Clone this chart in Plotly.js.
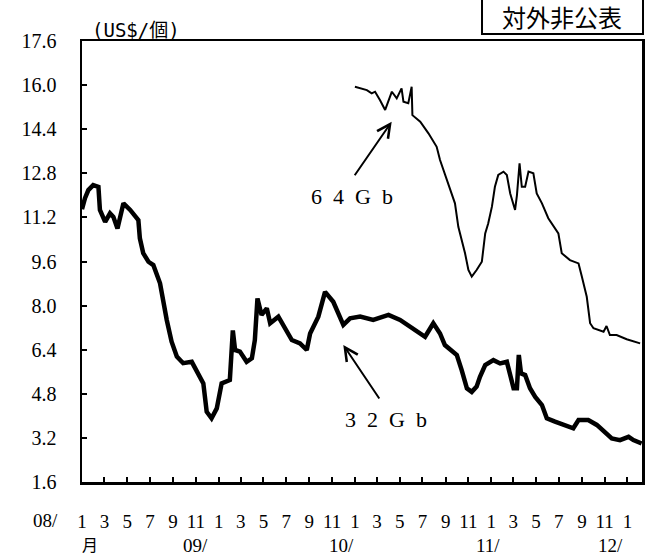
<!DOCTYPE html>
<html>
<head>
<meta charset="utf-8">
<script src="https://cdn.plot.ly/plotly-3.0.1.min.js"></script>
<style>html,body{margin:0;padding:0;background:#fff;}#chart{width:647px;height:555px;}</style>
</head>
<body>
<div id="chart"></div>
<script>
// 32Gb series (US$/unit)
const dates32 = ["2008-01-01","2008-01-09","2008-01-18","2008-01-31","2008-02-14","2008-02-18","2008-03-03","2008-03-16","2008-03-25","2008-04-05","2008-04-21","2008-05-09","2008-05-31","2008-06-04","2008-06-13","2008-06-27","2008-07-10","2008-07-28","2008-08-15","2008-08-28","2008-09-11","2008-09-28","2008-10-21","2008-11-03","2008-11-21","2008-11-30","2008-12-13","2008-12-27","2009-01-09","2009-01-31","2009-02-08","2009-02-14","2009-02-27","2009-03-17","2009-03-31","2009-04-08","2009-04-15","2009-04-26","2009-05-10","2009-05-19","2009-06-10","2009-07-16","2009-08-07","2009-08-25","2009-09-03","2009-09-25","2009-10-13","2009-11-04","2009-12-01","2009-12-19","2010-01-15","2010-02-19","2010-04-01","2010-05-02","2010-06-16","2010-07-08","2010-07-30","2010-08-17","2010-08-30","2010-09-13","2010-10-01","2010-10-14","2010-10-28","2010-11-10","2010-11-23","2010-12-02","2010-12-16","2011-01-07","2011-01-25","2011-02-12","2011-02-21","2011-03-02","2011-03-11","2011-03-16","2011-03-22","2011-04-02","2011-04-15","2011-04-29","2011-05-17","2011-05-30","2011-06-21","2011-07-18","2011-08-09","2011-08-23","2011-09-18","2011-10-11","2011-11-02","2011-11-20","2011-12-12","2012-01-04","2012-01-17","2012-02-08"];
const values32 = [11.5,11.9,12.19,12.37,12.31,11.47,11.04,11.35,11.22,10.8,11.71,11.47,11.1,10.44,9.9,9.59,9.47,8.81,7.48,6.69,6.15,5.91,5.96,5.6,5.18,4.15,3.91,4.27,5.18,5.3,7.1,6.39,6.33,5.96,6.09,6.75,8.26,7.66,7.9,7.36,7.6,6.75,6.63,6.39,6.99,7.6,8.5,8.14,7.3,7.54,7.6,7.48,7.66,7.48,7.1,6.87,7.36,6.99,6.57,6.39,6.21,5.66,5.0,4.87,5.06,5.42,5.84,6.02,5.9,5.96,5.42,5.0,5.0,6.21,5.54,5.48,5.0,4.69,4.39,3.91,3.79,3.67,3.55,3.85,3.85,3.67,3.42,3.18,3.12,3.24,3.12,3.0];

// 64Gb series (US$/unit)
const dates64 = ["2010-01-01","2010-02-02","2010-02-15","2010-02-24","2010-03-09","2010-03-23","2010-04-10","2010-04-23","2010-05-06","2010-05-11","2010-05-24","2010-06-02","2010-06-04","2010-06-25","2010-07-17","2010-08-08","2010-08-17","2010-09-04","2010-09-26","2010-10-05","2010-10-23","2010-11-01","2010-11-10","2010-11-23","2010-12-07","2010-12-16","2010-12-24","2011-01-03","2011-01-11","2011-01-20","2011-02-03","2011-02-12","2011-02-21","2011-03-06","2011-03-11","2011-03-18","2011-03-24","2011-04-02","2011-04-11","2011-04-24","2011-05-03","2011-05-17","2011-06-03","2011-06-30","2011-07-09","2011-07-31","2011-08-23","2011-09-01","2011-09-14","2011-09-23","2011-10-02","2011-10-29","2011-11-06","2011-11-15","2011-12-03","2011-12-30","2012-02-04"];
const values64 = [15.94,15.82,15.7,15.76,15.46,15.1,15.76,15.52,15.88,15.4,15.34,15.94,14.91,14.67,14.25,13.76,13.28,12.56,11.71,10.86,9.9,9.29,9.05,9.29,9.59,10.62,10.98,11.59,12.31,12.74,12.86,12.74,12.07,11.47,12.0,13.16,12.31,12.31,12.86,12.8,12.07,11.71,11.17,10.62,9.9,9.65,9.53,9.05,8.32,7.36,7.18,7.05,7.26,6.93,6.93,6.78,6.63];

// axis ticks
const yTickVals = [1.6,3.2,4.8,6.4,8.0,9.6,11.2,12.8,14.4,16.0,17.6];
const xTickVals = ["2008-01-01","2008-03-01","2008-05-01","2008-07-01","2008-09-01","2008-11-01",
  "2009-01-01","2009-03-01","2009-05-01","2009-07-01","2009-09-01","2009-11-01",
  "2010-01-01","2010-03-01","2010-05-01","2010-07-01","2010-09-01","2010-11-01",
  "2011-01-01","2011-03-01","2011-05-01","2011-07-01","2011-09-01","2011-11-01","2012-01-01"];
const xTickText = ["1","3","5","7","9","11","1","3","5","7","9","11","1","3","5","7","9","11","1","3","5","7","9","11","1"];
const yearLabels = ["08/","09/","10/","11/","12/"];

const serif = "'Liberation Serif', 'Times New Roman', 'DejaVu Serif', serif";
const jp = "'Noto Sans CJK JP', sans-serif";

const traces = [
  {x: dates32, y: values32, type: "scatter", mode: "lines", name: "32Gb",
   line: {color: "#000", width: 4.5, shape: "linear"}, hoverinfo: "skip"},
  {x: dates64, y: values64, type: "scatter", mode: "lines", name: "64Gb",
   line: {color: "#000", width: 2, shape: "linear"}, hoverinfo: "skip"}
];

const layout = {
  width: 647, height: 555,
  margin: {l: 82, r: 5, t: 41, b: 73, pad: 0},
  paper_bgcolor: "#fff", plot_bgcolor: "#fff",
  showlegend: false,
  xaxis: {
    type: "date", range: ["2008-01-01", "2012-02-09"],
    tickmode: "array", tickvals: xTickVals, ticktext: xTickText,
    ticks: "inside", ticklen: 5, tickwidth: 2, tickcolor: "#000",
    showline: true, linecolor: "#000", linewidth: 2.5, mirror: true,
    showgrid: false, zeroline: false,
    tickfont: {family: serif, size: 19, color: "#000"},
    ticklabelstandoff: 21
  },
  yaxis: {
    range: [1.6, 17.6],
    tickmode: "array", tickvals: yTickVals,
    ticktext: yTickVals.map(v => v.toFixed(1)),
    ticks: "inside", ticklen: 5, tickwidth: 2, tickcolor: "#000",
    showline: true, linecolor: "#000", linewidth: 2.5, mirror: true,
    showgrid: false, zeroline: false,
    tickfont: {family: serif, size: 20, color: "#000"},
    ticklabelstandoff: 19
  },
  shapes: [
    {type: "rect", xref: "paper", yref: "paper", x0: 0.7143, x1: 1.0018, y0: 1.0159, y1: 1.11,
     line: {color: "#000", width: 2}, fillcolor: "rgba(0,0,0,0)"}
  ],
  annotations: [
    {xref: "paper", yref: "paper", x: 0.857, y: 1.056, text: "対外非公表", showarrow: false,
     xanchor: "center", yanchor: "middle", font: {family: jp, size: 24, color: "#000"}},
    {xref: "paper", yref: "paper", x: 0.0143, y: 1.0249, text: "(US$/個)", showarrow: false,
     xanchor: "left", yanchor: "middle", font: {family: "'DejaVu Sans Mono', 'Noto Sans CJK JP', monospace", size: 19, color: "#000"}},
    {xref: "paper", yref: "paper", x: 0.4821, y: 0.6463, text: "6\u20024\u2002G\u2002b", showarrow: false,
     xanchor: "center", yanchor: "middle", font: {family: serif, size: 22, color: "#000"}},
    {xref: "paper", yref: "paper", x: 0.5429, y: 0.1406, text: "3\u20022\u2002G\u2002b", showarrow: false,
     xanchor: "center", yanchor: "middle", font: {family: serif, size: 22, color: "#000"}},
    {xref: "paper", yref: "paper", x: 0.553, y: 0.817, text: "", showarrow: true,
     ax: -38, ay: 55, arrowhead: 5, arrowsize: 1.3, arrowwidth: 2, arrowcolor: "#000"},
    {xref: "paper", yref: "paper", x: 0.4666, y: 0.3107, text: "", showarrow: true,
     ax: 37, ay: 55, arrowhead: 5, arrowsize: 1.3, arrowwidth: 2, arrowcolor: "#000"},
    {xref: "paper", yref: "paper", x: -0.066, y: -0.0884, text: yearLabels[0], showarrow: false,
     xanchor: "center", yanchor: "middle", font: {family: serif, size: 19, color: "#000"}},
    {xref: "paper", yref: "paper", x: 0.0143, y: -0.1395, text: "月", showarrow: false,
     xanchor: "center", yanchor: "middle", font: {family: jp, size: 16, color: "#000"}},
    {xref: "paper", yref: "paper", x: 0.2018, y: -0.1435, text: yearLabels[1], showarrow: false,
     xanchor: "center", yanchor: "middle", font: {family: serif, size: 19, color: "#000"}},
    {xref: "paper", yref: "paper", x: 0.4625, y: -0.1435, text: yearLabels[2], showarrow: false,
     xanchor: "center", yanchor: "middle", font: {family: serif, size: 19, color: "#000"}},
    {xref: "paper", yref: "paper", x: 0.725, y: -0.1435, text: yearLabels[3], showarrow: false,
     xanchor: "center", yanchor: "middle", font: {family: serif, size: 19, color: "#000"}},
    {xref: "paper", yref: "paper", x: 0.9446, y: -0.1435, text: yearLabels[4], showarrow: false,
     xanchor: "center", yanchor: "middle", font: {family: serif, size: 19, color: "#000"}}
  ]
};

Plotly.newPlot("chart", traces, layout, {staticPlot: true, displayModeBar: false});
</script>
</body>
</html>
